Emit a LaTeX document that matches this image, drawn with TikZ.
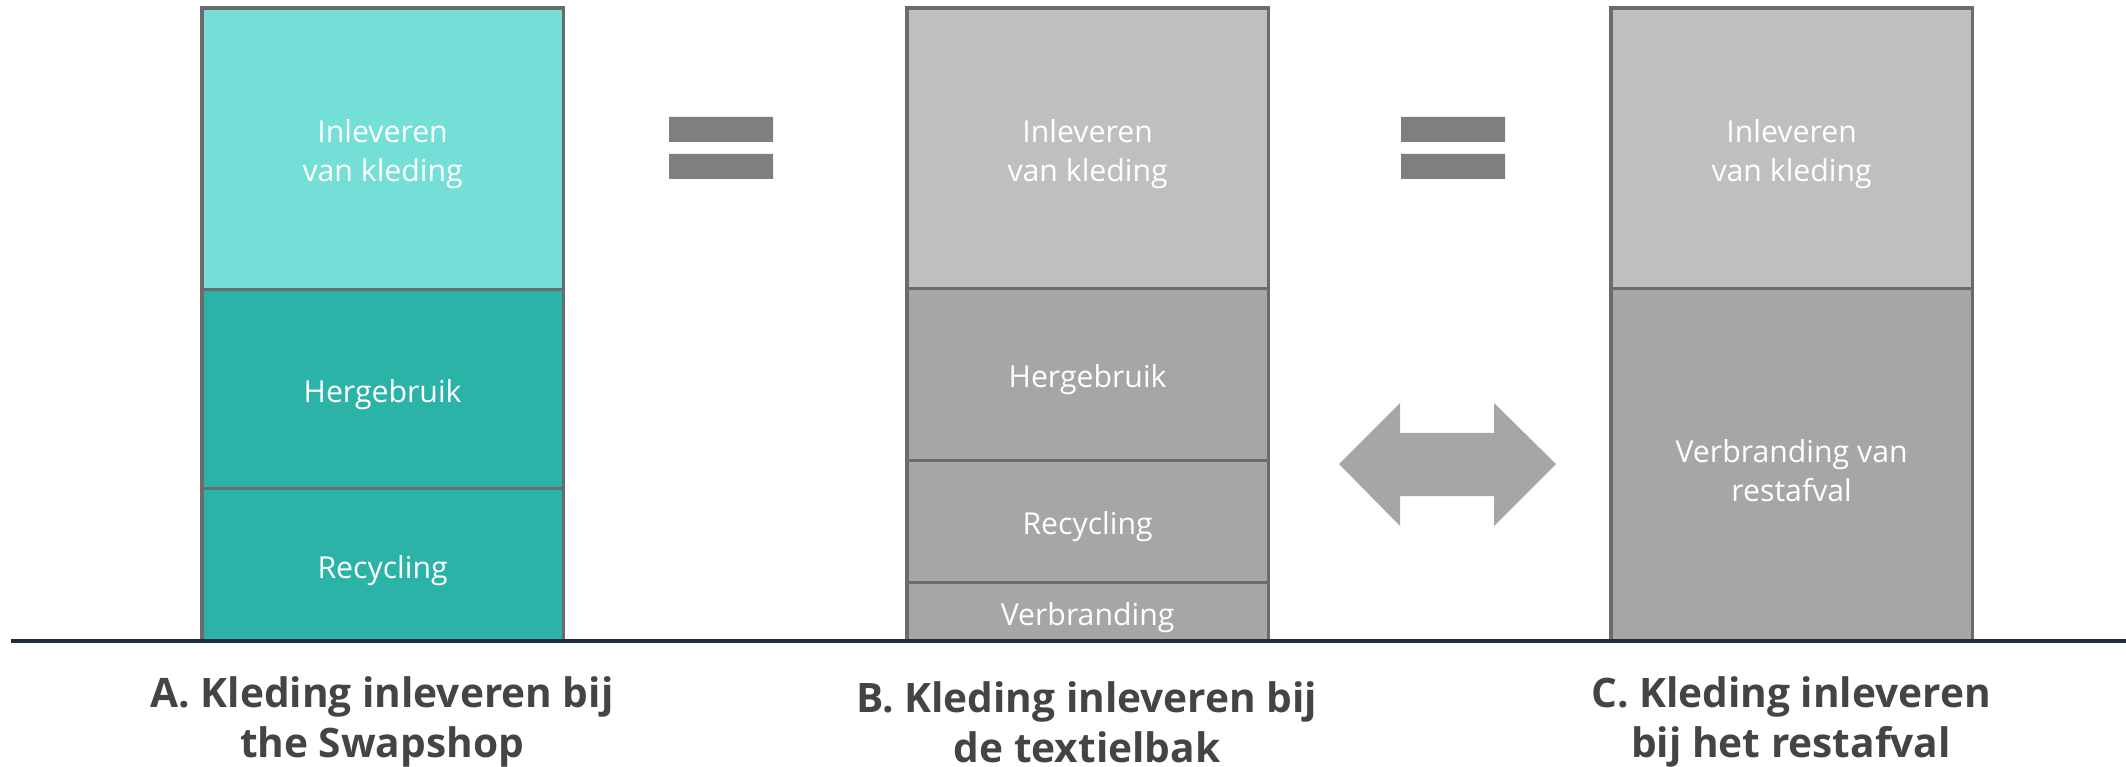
\documentclass[tikz,border=0pt]{standalone}
\usepackage{fontspec}
\setmainfont{Open Sans}
\usetikzlibrary{positioning}

\definecolor{swaplight}{HTML}{73DFD6}
\definecolor{swapdark}{HTML}{2BB3A7}
\definecolor{greylight}{HTML}{BFBFBF}
\definecolor{greydark}{HTML}{A6A6A6}
\definecolor{boxline}{HTML}{6B6B6B}
\definecolor{eqgrey}{HTML}{7F7F7F}
\definecolor{groundline}{HTML}{1F2C39}
\definecolor{titlegrey}{HTML}{444444}

% taller first line, so the text sits a little lower in its box
\newcommand\lift{\rule{0pt}{9.8pt}}

\begin{document}
\begin{tikzpicture}[x=0.01cm,y=-0.01cm,
			part/.style={draw=boxline,line width=0.9pt,minimum width=3.61cm,inner sep=0pt,outer sep=0pt,
				text=white,align=center,font=\fontsize{8.6}{11}\selectfont},
			top part/.style={part,anchor=north west},
			next part/.style={part,below=0pt of #1},
			swap light/.style={fill=swaplight},
			swap dark/.style={fill=swapdark},
			grey light/.style={fill=greylight},
			grey dark/.style={fill=greydark},
			caption/.style={text=titlegrey,align=center,font=\fontsize{11.55}{14.2}\selectfont\bfseries},
			equals bar/.style={fill=eqgrey},
			swap arrow/.style={fill=greydark}
			]
		\useasboundingbox (0,0) rectangle (2126,767);

		% A: swapshop
		\node [top part, swap light, minimum height=2.81cm] (a1) at (202,8) {\lift Inleveren\\van kleding};
		\node [next part=a1, swap dark, minimum height=1.99cm] (a2) {\lift Hergebruik};
		\node [next part=a2, swap dark, minimum height=1.53cm] (a3) {\lift Recycling};

		% B: textielbak
		\node [top part, grey light, minimum height=2.80cm] (b1) at (907,8) {\lift Inleveren\\van kleding};
		\node [next part=b1, grey dark, minimum height=1.72cm] (b2) {\lift Hergebruik};
		\node [next part=b2, grey dark, minimum height=1.22cm] (b3) {\lift Recycling};
		\node [next part=b3, grey dark, minimum height=0.59cm] (b4) {\lift Verbranding};

		% C: restafval
		\node [top part, grey light, minimum height=2.80cm] (c1) at (1611,8) {\lift Inleveren\\van kleding};
		\node [next part=c1, grey dark, minimum height=3.53cm] (c2) {\lift Verbranding van\\restafval};

		% ground line
		\draw [groundline, line width=1.1pt] (11,641) -- (2126,641);

		% captions
		\node [caption] (capA) at (382,722) {A. Kleding inleveren bij\\the Swapshop};
		\node [caption] (capB) at (1087,722) {B. Kleding inleveren bij\\de textielbak};
		\node [caption] (capC) at (1791,722) {C. Kleding inleveren\\bij het restafval};

		% equals signs
		\fill [equals bar] (669,117) rectangle (773,142) (669,154) rectangle (773,179);
		\fill [equals bar] (1401,117) rectangle (1505,142) (1401,154) rectangle (1505,179);

		% double arrow
		\fill [swap arrow] (1339,464) -- (1400,403) -- (1400,433) -- (1494,433) -- (1494,403)
			-- (1556,464) -- (1494,526) -- (1494,496) -- (1400,496) -- (1400,526) -- cycle;

\end{tikzpicture}
\end{document}
